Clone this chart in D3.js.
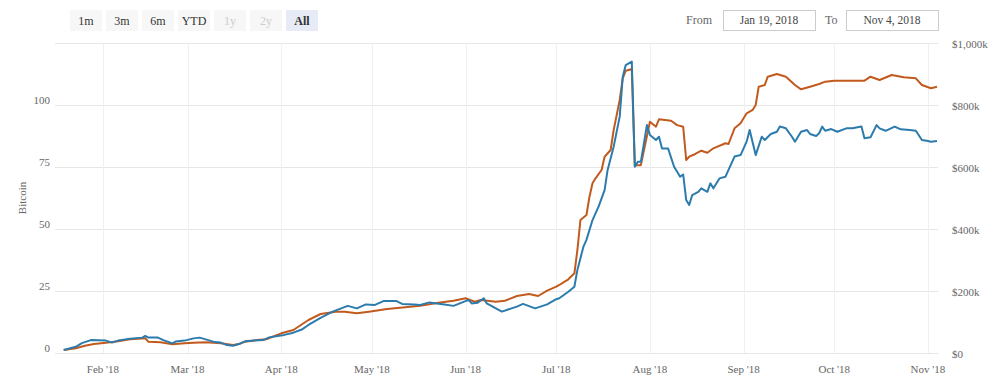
<!DOCTYPE html>
<html>
<head>
<meta charset="utf-8">
<script src="https://cdn.jsdelivr.net/npm/d3@7"></script>
<style>
  html, body { margin: 0; padding: 0; background: #fff; }
  svg { display: block; }
</style>
</head>
<body>
<svg id="chart" width="1000" height="391"></svg>
<script>
// ---------- data ----------
const rangeButtons = ["1m", "3m", "6m", "YTD", "1y", "2y", "All"];
const disabledButtons = ["1y", "2y"];
const activeButton = "All";
const fromDate = "Jan 19, 2018";
const toDate = "Nov 4, 2018";

const leftTicks = [0, 25, 50, 75, 100];
const rightTicks = [0, 200000, 400000, 600000, 800000, 1000000];
const monthTicks = ["2018-02-01","2018-03-01","2018-04-01","2018-05-01","2018-06-01","2018-07-01","2018-08-01","2018-09-01","2018-10-01","2018-11-01"];

// Bitcoin series (left axis)
const btcDates = ["2018-01-19","2018-01-23","2018-01-25","2018-01-28","2018-02-02","2018-02-04","2018-02-06","2018-02-09","2018-02-14","2018-02-15","2018-02-16","2018-02-19","2018-02-21","2018-02-24","2018-02-25","2018-02-28","2018-03-03","2018-03-05","2018-03-07","2018-03-10","2018-03-12","2018-03-14","2018-03-16","2018-03-18","2018-03-20","2018-03-23","2018-03-26","2018-03-28","2018-04-02","2018-04-05","2018-04-08","2018-04-10","2018-04-14","2018-04-18","2018-04-23","2018-04-26","2018-04-29","2018-05-02","2018-05-05","2018-05-09","2018-05-11","2018-05-15","2018-05-17","2018-05-20","2018-05-25","2018-05-28","2018-06-02","2018-06-03","2018-06-05","2018-06-07","2018-06-08","2018-06-13","2018-06-18","2018-06-20","2018-06-24","2018-06-28","2018-07-01","2018-07-02","2018-07-05","2018-07-07","2018-07-08","2018-07-10","2018-07-11","2018-07-13","2018-07-15","2018-07-17","2018-07-18","2018-07-20","2018-07-22","2018-07-23","2018-07-24","2018-07-26","2018-07-27","2018-07-28","2018-07-29","2018-07-31","2018-08-01","2018-08-03","2018-08-04","2018-08-05","2018-08-07","2018-08-09","2018-08-10","2018-08-11","2018-08-12","2018-08-13","2018-08-14","2018-08-15","2018-08-17","2018-08-18","2018-08-20","2018-08-21","2018-08-22","2018-08-24","2018-08-26","2018-08-29","2018-08-31","2018-09-02","2018-09-03","2018-09-05","2018-09-07","2018-09-08","2018-09-10","2018-09-12","2018-09-13","2018-09-15","2018-09-17","2018-09-18","2018-09-20","2018-09-22","2018-09-23","2018-09-25","2018-09-26","2018-09-27","2018-09-28","2018-09-30","2018-10-02","2018-10-05","2018-10-07","2018-10-10","2018-10-11","2018-10-13","2018-10-15","2018-10-16","2018-10-18","2018-10-21","2018-10-23","2018-10-26","2018-10-28","2018-10-30","2018-11-01","2018-11-02","2018-11-04"];
const btcValues = [1.2,2.5,4.0,5.2,5.0,4.2,5.0,5.6,6.2,6.9,6.2,6.3,5.2,3.9,4.6,5.0,5.9,6.2,5.5,4.4,4.2,3.2,2.9,3.6,4.7,5.0,5.2,6.3,7.3,8.2,9.6,11.3,14.2,16.7,19.0,18.0,19.6,19.4,21.0,21.0,19.8,19.6,19.4,20.4,19.6,19.0,21.4,20.0,20.3,22.1,20.0,16.7,18.7,19.8,18.0,19.6,21.7,22.1,24.7,26.7,33.5,42.9,45.6,53.6,59.0,65.7,73.8,83.2,95.3,111.4,116.1,117.5,75.1,77.1,77.1,91.9,87.9,85.9,87.2,82.5,82.5,75.1,73.1,71.1,72.0,61.7,59.7,63.7,65.0,66.4,65.0,68.4,66.4,70.4,71.1,79.2,79.8,85.2,89.9,79.8,87.2,85.9,88.3,89.2,91.3,90.6,87.2,85.2,89.2,89.9,88.3,87.5,88.6,91.3,89.6,90.3,89.2,90.6,90.6,91.3,86.6,87.0,91.9,90.6,89.6,91.3,90.2,89.9,89.6,85.9,85.5,85.2,85.5];

// USD value series (right axis)
const usdDates = ["2018-01-19","2018-01-23","2018-01-26","2018-01-29","2018-02-02","2018-02-06","2018-02-10","2018-02-15","2018-02-16","2018-02-20","2018-02-24","2018-02-28","2018-03-03","2018-03-07","2018-03-12","2018-03-16","2018-03-18","2018-03-20","2018-03-24","2018-03-27","2018-04-01","2018-04-05","2018-04-08","2018-04-10","2018-04-14","2018-04-19","2018-04-22","2018-04-26","2018-04-30","2018-05-06","2018-05-12","2018-05-17","2018-05-23","2018-05-28","2018-06-01","2018-06-04","2018-06-06","2018-06-11","2018-06-14","2018-06-18","2018-06-22","2018-06-25","2018-06-28","2018-07-01","2018-07-02","2018-07-05","2018-07-07","2018-07-08","2018-07-09","2018-07-11","2018-07-12","2018-07-13","2018-07-14","2018-07-16","2018-07-17","2018-07-19","2018-07-20","2018-07-22","2018-07-23","2018-07-24","2018-07-26","2018-07-27","2018-07-28","2018-07-29","2018-08-01","2018-08-03","2018-08-04","2018-08-08","2018-08-10","2018-08-12","2018-08-13","2018-08-14","2018-08-16","2018-08-18","2018-08-20","2018-08-22","2018-08-26","2018-08-27","2018-08-29","2018-08-31","2018-09-02","2018-09-04","2018-09-05","2018-09-06","2018-09-08","2018-09-09","2018-09-12","2018-09-15","2018-09-18","2018-09-20","2018-09-23","2018-09-26","2018-09-28","2018-10-01","2018-10-04","2018-10-11","2018-10-13","2018-10-16","2018-10-20","2018-10-24","2018-10-28","2018-10-30","2018-11-02","2018-11-04"];
const usdValues = [9700,15200,23500,29000,33200,37700,44200,47400,36500,34500,28100,31300,33200,34500,31300,25800,29000,36500,41900,44200,63500,74200,93500,106500,125800,133200,133200,128100,133200,141900,147400,152600,162300,168700,176500,165500,171000,165500,168700,183900,190300,183900,201000,213900,219400,237700,257100,332300,429000,445200,504200,547400,563500,590300,633200,654800,719400,816100,886100,910700,916000,606000,606000,606000,746000,730000,754000,749000,735000,730000,622600,633200,642000,652600,646100,660300,676500,674200,724800,741000,773200,783900,800000,859000,864500,891300,900000,891300,864500,850600,859000,867700,875200,878400,878400,878400,891300,880600,896800,889400,886100,864500,853900,859000];

// ---------- drawing ----------
const svg = d3.select("#chart");
const parse = d3.timeParse("%Y-%m-%d");
const serif = "'Liberation Serif', 'DejaVu Serif', serif";

const plotLeft = 55, plotRight = 938, plotTop = 43, plotBottom = 353;

const x = d3.scaleTime()
  .domain([parse("2018-01-19"), parse("2018-11-04")])
  .range([63.7, 937]);
const yL = d3.scaleLinear().domain([0, 125]).range([plotBottom, plotTop]);
const yR = d3.scaleLinear().domain([0, 1000000]).range([plotBottom, plotTop]);

// horizontal grid
svg.append("g").selectAll("line")
  .data(rightTicks)
  .join("line")
  .attr("x1", plotLeft).attr("x2", plotRight)
  .attr("y1", d => yR(d) + 0.5).attr("y2", d => yR(d) + 0.5)
  .attr("stroke", "#e6e6e6").attr("stroke-width", 1);

// vertical grid
const monthDates = monthTicks.map(parse);
svg.append("g").selectAll("line")
  .data(monthDates)
  .join("line")
  .attr("x1", d => Math.round(x(d)) + 0.5).attr("x2", d => Math.round(x(d)) + 0.5)
  .attr("y1", plotTop).attr("y2", plotBottom)
  .attr("stroke", "#f0f0f0").attr("stroke-width", 1);

// x axis labels
const fmt = d3.timeFormat("%b '%y");
svg.append("g").selectAll("text")
  .data(monthDates)
  .join("text")
  .attr("x", d => x(d)).attr("y", 373)
  .attr("text-anchor", "middle")
  .attr("font-family", serif).attr("font-size", 11).attr("fill", "#666")
  .text(d => fmt(d));

// left axis labels
svg.append("g").selectAll("text")
  .data(leftTicks)
  .join("text")
  .attr("x", 50).attr("y", d => yL(d) - 1)
  .attr("text-anchor", "end")
  .attr("font-family", serif).attr("font-size", 11).attr("fill", "#666")
  .text(d => d);

// right axis labels
const rfmt = d => d === 0 ? "$0" : "$" + d3.format(",")(d / 1000) + "k";
svg.append("g").selectAll("text")
  .data(rightTicks)
  .join("text")
  .attr("x", 952).attr("y", d => yR(d) + 5)
  .attr("text-anchor", "start")
  .attr("font-family", serif).attr("font-size", 11).attr("fill", "#666")
  .text(rfmt);

// left axis title
svg.append("text")
  .attr("transform", "translate(26,198) rotate(-90)")
  .attr("text-anchor", "middle")
  .attr("font-family", serif).attr("font-size", 11).attr("fill", "#666")
  .text("Bitcoin");

// lines
const btcData = btcDates.map((d, i) => ({ date: parse(d), v: btcValues[i] }));
const usdData = usdDates.map((d, i) => ({ date: parse(d), v: usdValues[i] }));

svg.append("path")
  .datum(usdData)
  .attr("fill", "none").attr("stroke", "#c25a1e").attr("stroke-width", 2)
  .attr("stroke-linejoin", "round")
  .attr("d", d3.line().x(d => x(d.date)).y(d => yR(d.v)));

svg.append("path")
  .datum(btcData)
  .attr("fill", "none").attr("stroke", "#2c7bad").attr("stroke-width", 2)
  .attr("stroke-linejoin", "round")
  .attr("d", d3.line().x(d => x(d.date)).y(d => yL(d.v)));

// range selector buttons
const btnG = svg.append("g");
const btnX = d3.scalePoint().domain(rangeButtons).range([70, 286]);
const btn = btnG.selectAll("g").data(rangeButtons).join("g")
  .attr("transform", d => `translate(${btnX(d)},10)`);
btn.append("rect")
  .attr("width", 32).attr("height", 21)
  .attr("fill", d => d === activeButton ? "#e6ebf5" : "#f7f7f7");
btn.append("text")
  .attr("x", 16).attr("y", 15)
  .attr("text-anchor", "middle")
  .attr("font-family", serif).attr("font-size", 12)
  .attr("font-weight", d => d === activeButton ? "bold" : "normal")
  .attr("fill", d => disabledButtons.includes(d) ? "#cccccc" : "#333333")
  .text(d => d);

// date inputs
svg.append("text").attr("x", 686).attr("y", 24)
  .attr("font-family", serif).attr("font-size", 12).attr("fill", "#666").text("From");
svg.append("rect").attr("x", 723.5).attr("y", 10.5).attr("width", 92).attr("height", 20)
  .attr("fill", "#fff").attr("stroke", "#cccccc");
svg.append("text").attr("x", 769).attr("y", 24).attr("text-anchor", "middle")
  .attr("font-family", serif).attr("font-size", 11.5).attr("fill", "#444").text(fromDate);
svg.append("text").attr("x", 825).attr("y", 24)
  .attr("font-family", serif).attr("font-size", 12).attr("fill", "#666").text("To");
svg.append("rect").attr("x", 846.5).attr("y", 10.5).attr("width", 92).attr("height", 20)
  .attr("fill", "#fff").attr("stroke", "#cccccc");
svg.append("text").attr("x", 892).attr("y", 24).attr("text-anchor", "middle")
  .attr("font-family", serif).attr("font-size", 11.5).attr("fill", "#444").text(toDate);
</script>
</body>
</html>
